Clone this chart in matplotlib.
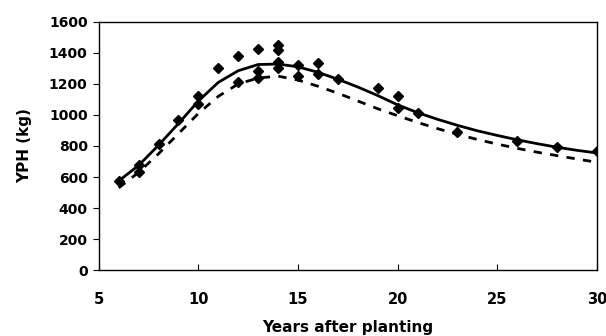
import matplotlib
matplotlib.use("Agg")
import matplotlib.pyplot as plt

plt.rcParams['font.family'] = ['DejaVu Sans']

# observed yield per hectare (kg)
obs_years = [6, 7, 7, 8, 9, 10, 10, 11, 12, 12, 13, 13, 13, 14, 14, 14, 14,
             15, 15, 16, 16, 17, 19, 20, 20, 21, 23, 26, 28, 30]
obs_yph = [575, 680, 630, 815, 965, 1120, 1070, 1300, 1380, 1215, 1425, 1285, 1240,
           1450, 1420, 1340, 1300, 1320, 1250, 1335, 1265, 1232, 1176, 1124, 1047,
           1011, 892, 832, 795, 770]

# fitted curves
fit_years = list(range(6, 31))
fit_solid = [575, 675, 805, 945, 1090, 1210, 1285, 1325, 1328, 1310, 1275, 1230, 1180,
             1125, 1065, 1015, 972, 933, 898, 868, 840, 815, 792, 772, 755]
fit_dashed = [530, 630, 750, 880, 1010, 1120, 1200, 1238, 1250, 1225, 1185, 1140, 1090,
              1040, 995, 952, 912, 875, 842, 812, 785, 760, 738, 716, 695]

fig = plt.figure(figsize=(6.06, 3.36), dpi=100)
ax = fig.add_axes([0.163, 0.196, 0.822, 0.739])

ax.plot(fit_years, fit_solid, color='black', lw=2.0)
ax.plot(fit_years, fit_dashed, color='black', lw=2.0, ls=(0, (3, 3)))
ax.plot(obs_years, obs_yph, ls='none', marker='D', ms=4.8, color='black')

ax.set_xlim(5, 30)
ax.set_ylim(0, 1600)
ax.set_xticks([5, 10, 15, 20, 25, 30])
ax.set_yticks(range(0, 1601, 200))
ax.tick_params(axis='x', direction='in', length=4, pad=16, labelsize=10.5)
ax.tick_params(axis='y', direction='out', length=4, pad=4, labelsize=10)
for lab in ax.get_xticklabels() + ax.get_yticklabels():
    lab.set_fontweight('bold')
for s in ax.spines.values():
    s.set_linewidth(1.0)

ax.set_ylabel('YPH (kg)', fontsize=11, fontweight='bold', labelpad=12)
ax.set_xlabel('Years after planting', fontsize=11, fontweight='bold', labelpad=9)

fig.savefig('out.png', dpi=100)
